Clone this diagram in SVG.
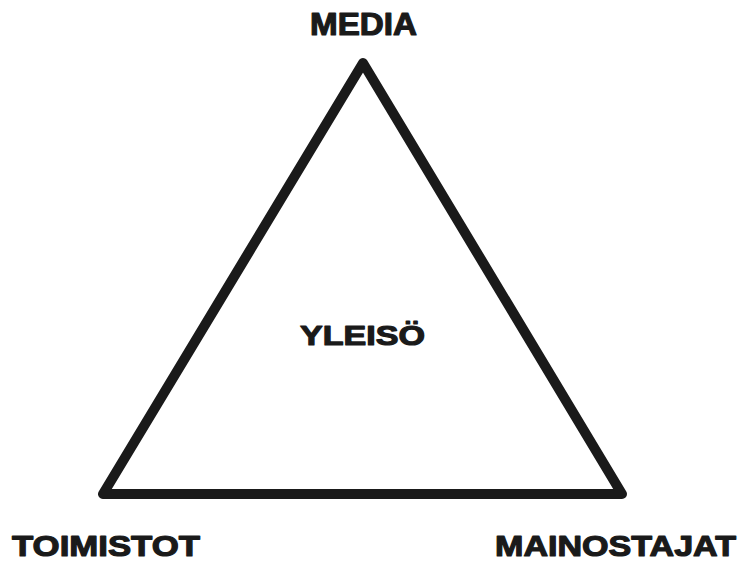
<svg xmlns="http://www.w3.org/2000/svg" width="738" height="561" viewBox="0 0 738 561">
<style>
.lbl{font-family:"Liberation Sans",Arial,sans-serif;font-weight:bold;fill:#1a1a1a;stroke:#1a1a1a;stroke-width:1.2;stroke-linejoin:round}
</style>
<rect width="738" height="561" fill="#fff"/>
<g id="connectors">
<polygon points="363,63 103,494 622,494" fill="none" stroke="#1a1a1a" stroke-width="10" stroke-linejoin="round"/>
</g>
<g id="media"><text class="lbl" x="310" y="35" font-size="31" textLength="107" lengthAdjust="spacingAndGlyphs">MEDIA</text></g>
<g id="yleiso"><text class="lbl" x="300" y="345" font-size="28" textLength="125" lengthAdjust="spacingAndGlyphs">YLEISÖ</text></g>
<g id="toimistot"><text class="lbl" x="12" y="556" font-size="30" textLength="188" lengthAdjust="spacingAndGlyphs">TOIMISTOT</text></g>
<g id="mainostajat"><text class="lbl" x="495" y="556" font-size="30" textLength="241" lengthAdjust="spacingAndGlyphs">MAINOSTAJAT</text></g>
</svg>
